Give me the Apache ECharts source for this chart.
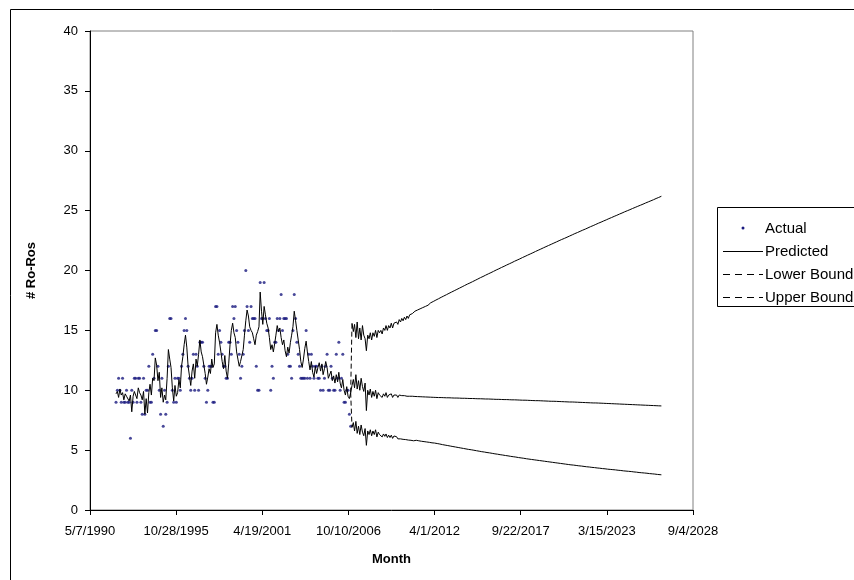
<!DOCTYPE html>
<html>
<head>
<meta charset="utf-8">
<title># Ro-Ros by Month</title>
<script src="https://cdn.jsdelivr.net/npm/echarts@6/dist/echarts.min.js"></script>
<style>
  html, body { margin: 0; padding: 0; background: #ffffff; }
  #chart { width: 854px; height: 580px; }
</style>
</head>
<body>
<div id="chart"></div>
<script>
// Monthly series: observations Jan 1992 - Dec 2006, forecast Jan 2007 - Sep 2026
const firstYear = 1992;
const forecastStartIndex = 180; // Jan 2007

// Observed monthly counts (Jan 1992 - Dec 2006)
const actual = [
  9, 10, 11, 10, 9, 11, 9, 9, 10, 9, 9, 6,
  10, 9, 11, 11, 9, 11, 11, 9, 8, 11, 8, 10,
  10, 12, 9, 9, 13, 11, 15, 15, 12, 10, 8, 11,
  7, 10, 8, 9, 12, 16, 16, 10, 9, 11, 9, 11,
  11, 10, 12, 13, 15, 16, 15, 12, 11, 10, 11, 13,
  10, 13, 12, 10, 14, 14, 14, 12, 11, 9, 10, 12,
  12, 12, 9, 9, 17, 17, 13, 15, 14, 13, 12, 12,
  11, 11, 14, 14, 13, 17, 16, 17, 15, 14, 13, 11,
  12, 13, 15, 20, 17, 15, 14, 17, 16, 16, 16, 12,
  10, 10, 19, 16, 16, 19, 16, 15, 15, 16, 10, 12,
  11, 14, 14, 16, 15, 16, 18, 15, 16, 16, 16, 13,
  12, 12, 11, 15, 18, 16, 14, 13, 12, 11, 11, 11,
  11, 15, 11, 13, 11, 13, 12, 11, 12, 12, 11, 11,
  10, 12, 10, 11, 12, 13, 10, 10, 12, 11, 10, 10,
  13, 11, 14, 10, 11, 13, 9, 9, 10, 10, 8, 7
];

// Model fit over the observed period (Jan 1992 - Dec 2006)
const fitted = [
  9.7, 9.9, 9.4, 10.1, 9.6, 9.8, 9.2, 9.7, 9.5, 9.6, 9.1, 9.6,
  8.2, 9.5, 9.9, 9.8, 9.3, 10.2, 9.8, 9.6, 9.2, 9.9, 8.0, 9.3,
  8.1, 9.8, 10.5, 9.6, 11.0, 10.8, 12.7, 12.1, 10.8, 11.5, 9.4, 10.2,
  9.0, 9.6, 9.2, 11.0, 13.4, 12.6, 11.9, 10.2, 9.1, 10.4, 9.5, 9.8,
  10.9, 10.2, 12.0, 12.8, 13.8, 14.6, 13.6, 12.0, 11.2, 10.4, 11.6, 12.2,
  11.0, 12.6, 12.0, 13.0, 14.2, 13.2, 12.8, 12.1, 11.4, 10.5, 11.1, 11.8,
  11.4, 12.6, 11.9, 12.2, 14.8, 15.5, 14.6, 14.0, 13.2, 12.4, 11.8, 12.9,
  11.6, 11.0, 12.2, 13.8, 15.0, 15.6, 14.8, 14.4, 13.2, 12.6, 12.0, 12.4,
  12.3, 13.4, 14.6, 15.8, 16.7, 16.2, 15.3, 15.0, 14.8, 14.3, 13.8, 14.6,
  14.9, 15.3, 18.2, 16.6, 15.5, 17.0, 16.3, 15.6, 15.2, 14.4, 13.4, 13.8,
  13.2, 13.9, 14.6, 15.4, 14.9, 15.2, 14.4, 13.8, 14.2, 13.3, 12.8, 13.6,
  13.1, 14.0, 14.6, 15.3, 16.6, 15.8, 15.0, 14.2, 13.4, 12.4, 11.9, 12.6,
  13.5, 14.1, 13.2, 12.4, 11.7, 12.4, 11.5, 11.1, 12.0, 11.4, 11.9, 12.3,
  11.6, 12.2, 11.3, 11.8, 12.4, 11.9, 11.0, 10.9, 11.6, 10.8, 11.2, 10.6,
  11.3, 10.7, 11.5, 10.6, 10.2, 10.9, 10.0, 9.6, 10.3, 9.5, 9.3, 9.8
];

// Point forecast (Jan 2007 - Sep 2026)
const forecast = [
  10.4, 10.9, 10.2, 11.3, 10.1, 10.8, 10.0, 11.0, 10.3, 9.9, 10.6, 8.3,
  10.0, 9.6, 10.1, 9.4, 9.9, 9.5, 10.0, 9.3, 9.8, 9.6, 9.7, 9.4,
  9.7, 9.5, 9.8, 9.4, 9.6, 9.5, 9.7, 9.4, 9.6, 9.5, 9.6, 9.4,
  9.6, 9.45, 9.55, 9.4, 9.55, 9.45, 9.5, 9.4, 9.5, 9.45, 9.5, 9.42,
  9.48, 9.44, 9.47, 9.42, 9.46, 9.43, 9.45, 9.42, 9.44, 9.42, 9.43, 9.41,
  9.42, 9.41, 9.41, 9.40, 9.40, 9.40, 9.39, 9.39, 9.39, 9.38, 9.38, 9.38,
  9.37, 9.37, 9.37, 9.36, 9.36, 9.36, 9.35, 9.35, 9.35, 9.34, 9.34, 9.34,
  9.33, 9.33, 9.33, 9.32, 9.32, 9.32, 9.31, 9.31, 9.31, 9.30, 9.30, 9.30,
  9.29, 9.29, 9.29, 9.28, 9.28, 9.28, 9.27, 9.27, 9.27, 9.26, 9.26, 9.26,
  9.25, 9.25, 9.24, 9.24, 9.24, 9.23, 9.23, 9.23, 9.22, 9.22, 9.22, 9.21,
  9.21, 9.21, 9.20, 9.20, 9.20, 9.19, 9.19, 9.18, 9.18, 9.18, 9.17, 9.17,
  9.17, 9.16, 9.16, 9.15, 9.15, 9.15, 9.14, 9.14, 9.13, 9.13, 9.13, 9.12,
  9.12, 9.11, 9.11, 9.11, 9.10, 9.10, 9.09, 9.09, 9.08, 9.08, 9.08, 9.07,
  9.07, 9.06, 9.06, 9.05, 9.05, 9.05, 9.04, 9.04, 9.03, 9.03, 9.02, 9.02,
  9.02, 9.01, 9.01, 9.00, 9.00, 8.99, 8.99, 8.98, 8.98, 8.98, 8.97, 8.97,
  8.96, 8.96, 8.95, 8.95, 8.94, 8.94, 8.94, 8.93, 8.93, 8.92, 8.92, 8.91,
  8.91, 8.90, 8.90, 8.89, 8.89, 8.88, 8.88, 8.87, 8.87, 8.86, 8.86, 8.85,
  8.85, 8.84, 8.84, 8.83, 8.83, 8.82, 8.82, 8.81, 8.81, 8.80, 8.80, 8.79,
  8.79, 8.78, 8.78, 8.77, 8.77, 8.76, 8.76, 8.75, 8.75, 8.74, 8.74, 8.73,
  8.73, 8.72, 8.72, 8.71, 8.71, 8.70, 8.70, 8.69, 8.69
];

// Lower prediction bound (Jan 2007 - Sep 2026)
const lowerBound = [
  6.9, 7.3, 6.6, 7.4, 6.4, 7.0, 6.3, 7.1, 6.5, 6.2, 6.8, 5.4,
  6.6, 6.3, 6.7, 6.2, 6.6, 6.3, 6.7, 6.1, 6.5, 6.3, 6.4, 6.1,
  6.35, 6.15, 6.35, 6.05, 6.25, 6.05, 6.25, 5.98, 6.18, 6.02, 6.12, 5.94,
  6.08, 5.94, 6.04, 5.9, 6.0, 5.88, 5.96, 5.84, 5.92, 5.82, 5.88, 5.78,
  5.90, 5.82, 5.86, 5.78, 5.81, 5.74, 5.77, 5.71, 5.73, 5.68, 5.69, 5.65,
  5.62, 5.61, 5.60, 5.59, 5.57, 5.55, 5.53, 5.51, 5.49, 5.46, 5.44, 5.42,
  5.40, 5.38, 5.36, 5.34, 5.32, 5.30, 5.28, 5.26, 5.24, 5.22, 5.20, 5.18,
  5.16, 5.14, 5.12, 5.10, 5.08, 5.06, 5.05, 5.03, 5.01, 4.99, 4.97, 4.95,
  4.93, 4.91, 4.89, 4.87, 4.86, 4.84, 4.82, 4.80, 4.78, 4.77, 4.75, 4.73,
  4.71, 4.69, 4.68, 4.66, 4.64, 4.62, 4.61, 4.59, 4.57, 4.55, 4.54, 4.52,
  4.50, 4.48, 4.47, 4.45, 4.43, 4.42, 4.40, 4.38, 4.37, 4.35, 4.33, 4.32,
  4.30, 4.28, 4.27, 4.25, 4.24, 4.22, 4.21, 4.19, 4.17, 4.16, 4.14, 4.13,
  4.11, 4.10, 4.08, 4.07, 4.05, 4.04, 4.02, 4.01, 3.99, 3.98, 3.96, 3.95,
  3.93, 3.92, 3.90, 3.89, 3.87, 3.86, 3.84, 3.83, 3.82, 3.80, 3.79, 3.77,
  3.76, 3.75, 3.73, 3.72, 3.71, 3.69, 3.68, 3.67, 3.65, 3.64, 3.63, 3.61,
  3.60, 3.59, 3.58, 3.56, 3.55, 3.54, 3.53, 3.51, 3.50, 3.49, 3.48, 3.46,
  3.45, 3.44, 3.43, 3.41, 3.40, 3.39, 3.38, 3.37, 3.36, 3.35, 3.33, 3.32,
  3.31, 3.30, 3.29, 3.27, 3.26, 3.25, 3.24, 3.23, 3.22, 3.21, 3.19, 3.18,
  3.17, 3.16, 3.15, 3.13, 3.12, 3.11, 3.10, 3.09, 3.08, 3.07, 3.05, 3.04,
  3.03, 3.02, 3.01, 3.00, 2.98, 2.97, 2.96, 2.95, 2.94
];

// Upper prediction bound (Jan 2007 - Sep 2026)
const upperBound = [
  15.6, 14.9, 15.5, 14.4, 15.7, 14.3, 15.2, 14.2, 15.4, 14.6, 14.3, 13.3,
  14.6, 14.3, 14.8, 14.2, 14.8, 14.5, 15.0, 14.4, 15.0, 14.8, 15.0, 14.7,
  15.2, 15.0, 15.4, 15.0, 15.4, 15.2, 15.6, 15.2, 15.6, 15.5, 15.7, 15.5,
  15.9, 15.7, 16.0, 15.8, 16.1, 15.9, 16.2, 16.0, 16.3, 16.2, 16.4, 16.3,
  16.6, 16.5, 16.7, 16.6, 16.8, 16.7, 16.9, 16.8, 17.0, 17.0, 17.1, 17.1,
  17.30, 17.36, 17.41, 17.47, 17.53, 17.59, 17.64, 17.70, 17.76, 17.81, 17.87, 17.93,
  17.98, 18.04, 18.09, 18.15, 18.20, 18.26, 18.31, 18.37, 18.42, 18.48, 18.53, 18.59,
  18.64, 18.69, 18.75, 18.80, 18.86, 18.91, 18.96, 19.02, 19.07, 19.13, 19.18, 19.24,
  19.29, 19.34, 19.40, 19.45, 19.50, 19.56, 19.61, 19.66, 19.72, 19.77, 19.82, 19.88,
  19.93, 19.98, 20.04, 20.09, 20.14, 20.19, 20.25, 20.30, 20.35, 20.40, 20.46, 20.51,
  20.56, 20.61, 20.66, 20.72, 20.77, 20.82, 20.87, 20.92, 20.97, 21.03, 21.08, 21.13,
  21.18, 21.23, 21.28, 21.33, 21.38, 21.43, 21.48, 21.54, 21.59, 21.64, 21.69, 21.74,
  21.79, 21.84, 21.89, 21.94, 21.99, 22.04, 22.09, 22.14, 22.19, 22.24, 22.29, 22.34,
  22.39, 22.44, 22.49, 22.54, 22.59, 22.64, 22.68, 22.73, 22.78, 22.83, 22.88, 22.93,
  22.98, 23.03, 23.08, 23.12, 23.17, 23.22, 23.27, 23.32, 23.37, 23.41, 23.46, 23.51,
  23.56, 23.61, 23.66, 23.70, 23.75, 23.80, 23.85, 23.90, 23.95, 23.99, 24.04, 24.09,
  24.14, 24.19, 24.23, 24.28, 24.33, 24.38, 24.42, 24.47, 24.52, 24.57, 24.61, 24.66,
  24.71, 24.76, 24.80, 24.85, 24.90, 24.94, 24.99, 25.04, 25.08, 25.13, 25.18, 25.22,
  25.27, 25.32, 25.36, 25.41, 25.45, 25.50, 25.54, 25.59, 25.64, 25.68, 25.73, 25.77,
  25.82, 25.87, 25.91, 25.96, 26.01, 26.06, 26.10, 26.15, 26.20
];

// Axis settings (dates on the x axis are spreadsheet day serials)
const xMin = 33000, xMax = 47000, xStep = 2000;
const yMin = 0, yMax = 40, yStep = 5;

// Legend entries, top to bottom
const legendNames = ['Actual', 'Predicted', 'Lower Bound', 'Upper Bound'];

const EPOCH = Date.UTC(1899, 11, 30);
const DAY = 86400000;

// Day serial of the first day of month index i (0 = Jan of firstYear)
function monthSerial(i) {
  const y = firstYear + Math.floor(i / 12);
  const m = i % 12;
  return Math.round((Date.UTC(y, m, 1) - EPOCH) / DAY);
}
function serialLabel(v) {
  const d = new Date(EPOCH + v * DAY);
  return (d.getUTCMonth() + 1) + '/' + d.getUTCDate() + '/' + d.getUTCFullYear();
}

const predicted = fitted.concat(forecast);
const actualData = actual.map((v, i) => [monthSerial(i), v]);
const predictedData = predicted.map((v, i) => [monthSerial(i), v]);
const lowerData = lowerBound.map((v, i) => [monthSerial(forecastStartIndex + i), v]);
const upperData = upperBound.map((v, i) => [monthSerial(forecastStartIndex + i), v]);

// The bounds fan out from the last fitted month; that first step is dashed
const lastFit = [monthSerial(forecastStartIndex - 1), fitted[fitted.length - 1]];
const lowerLink = [lastFit, lowerData[0]];
const upperLink = [lastFit, upperData[0]];

const FONT = '"Liberation Sans", Arial, Helvetica, sans-serif';
const DASH = [5, 3];
const DOT_COLOR = '#1a1a80';

// Boxed legend to the right of the plot
const LG = { x: 717, y: 207, rowTop: 228, rowGap: 23, lineX0: 723, lineX1: 763, textX: 765 };
function legendGraphics() {
  const els = [{
    type: 'rect', silent: true, z: 10,
    shape: { x: LG.x + 0.5, y: LG.y + 0.5, width: 200, height: 99 },
    style: { fill: '#fff', stroke: '#000', lineWidth: 1 }
  }];
  legendNames.forEach((name, i) => {
    const cy = LG.rowTop + i * LG.rowGap;
    if (i === 0) {
      els.push({
        type: 'circle', silent: true, z: 11,
        shape: { cx: (LG.lineX0 + LG.lineX1) / 2, cy: cy, r: 1.5 },
        style: { fill: DOT_COLOR }
      });
    } else {
      els.push({
        type: 'line', silent: true, z: 11,
        shape: { x1: LG.lineX0, y1: cy + 0.5, x2: LG.lineX1, y2: cy + 0.5 },
        style: { stroke: '#000', lineWidth: 1, lineDash: i === 1 ? null : [7, 5] }
      });
    }
    els.push({
      type: 'text', silent: true, z: 11,
      x: LG.textX, y: cy + 0.5,
      style: { text: name, font: '15px ' + FONT, fill: '#000', verticalAlign: 'middle', align: 'left' }
    });
  });
  return els;
}

const chart = echarts.init(document.getElementById('chart'), null, { renderer: 'canvas' });

chart.setOption({
  animation: false,
  backgroundColor: '#ffffff',
  textStyle: { fontFamily: FONT, color: '#000' },
  graphic: [{
    type: 'rect',
    silent: true,
    shape: { x: 10.5, y: 9.5, width: 1000, height: 1000 },
    style: { fill: 'none', stroke: '#000', lineWidth: 1 },
    z: 0
  }].concat(legendGraphics()),
  grid: {
    left: 90, top: 31, right: 161, bottom: 70,
    show: true, borderColor: '#808080', borderWidth: 1, backgroundColor: 'transparent'
  },
  xAxis: {
    type: 'value',
    min: xMin, max: xMax, interval: xStep,
    name: 'Month', nameLocation: 'middle', nameGap: 43,
    nameTextStyle: { fontFamily: FONT, fontSize: 13, fontWeight: 'bold', color: '#000' },
    axisLine: { show: true, onZero: false, lineStyle: { color: '#000', width: 1 } },
    axisTick: { show: true, inside: false, length: 5, lineStyle: { color: '#000' } },
    splitLine: { show: false },
    axisLabel: {
      margin: 15, color: '#000', fontFamily: FONT, fontSize: 13,
      formatter: serialLabel, showMinLabel: true, showMaxLabel: true
    }
  },
  yAxis: {
    type: 'value',
    min: yMin, max: yMax, interval: yStep,
    name: '# Ro-Ros', nameLocation: 'middle', nameGap: 52, nameRotate: 90,
    nameTextStyle: { fontFamily: FONT, fontSize: 13, fontWeight: 'bold', color: '#000' },
    axisLine: { show: true, onZero: false, lineStyle: { color: '#000', width: 1 } },
    axisTick: { show: true, inside: false, length: 5, lineStyle: { color: '#000' } },
    splitLine: { show: false },
    axisLabel: { margin: 12, color: '#000', fontFamily: FONT, fontSize: 13 }
  },
  series: [
    {
      name: 'Actual', type: 'scatter', data: actualData,
      symbol: 'circle', symbolSize: 3,
      itemStyle: { color: DOT_COLOR }, z: 3
    },
    {
      name: 'Predicted', type: 'line', data: predictedData,
      symbol: 'none', lineStyle: { color: '#000', width: 1 }, z: 4
    },
    {
      name: 'Lower Bound', type: 'line', data: lowerData,
      symbol: 'none', lineStyle: { color: '#000', width: 1 }, z: 4
    },
    {
      name: 'Upper Bound', type: 'line', data: upperData,
      symbol: 'none', lineStyle: { color: '#000', width: 1 }, z: 4
    },
    {
      name: 'Lower Bound', type: 'line', data: lowerLink,
      symbol: 'none', lineStyle: { color: '#000', width: 1, type: DASH }, z: 4
    },
    {
      name: 'Upper Bound', type: 'line', data: upperLink,
      symbol: 'none', lineStyle: { color: '#000', width: 1, type: DASH }, z: 4
    }
  ]
});
</script>
</body>
</html>
